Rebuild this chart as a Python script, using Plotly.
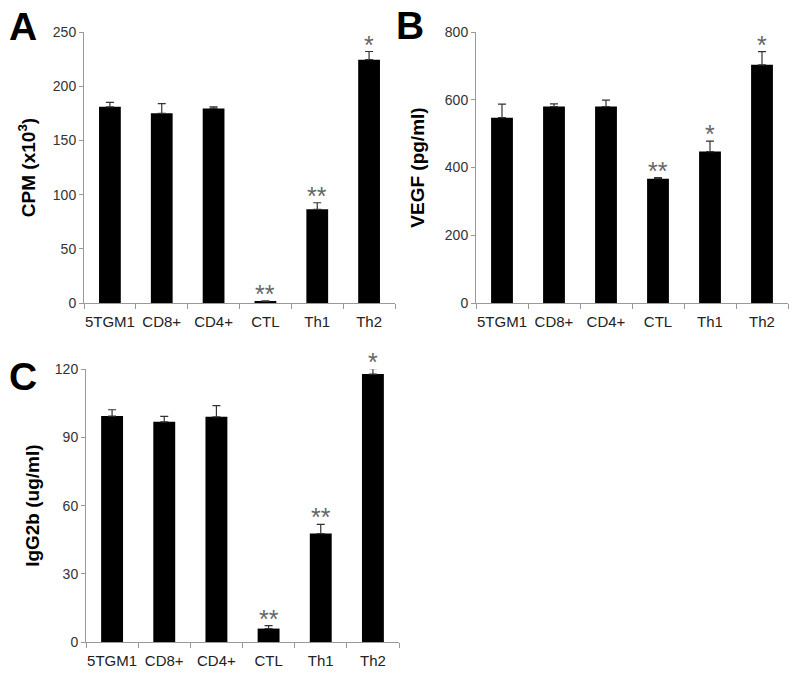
import plotly.graph_objects as go

categories = ["5TGM1", "CD8+", "CD4+", "CTL", "Th1", "Th2"]

cpm_values = [181, 175, 179.5, 1.5, 86.5, 224.5]
cpm_errors = [4, 9, 1.5, 0.5, 6, 7.5]
cpm_marks = ["", "", "", "**", "**", "*"]

vegf_values = [547, 580, 580, 367, 447, 703]
vegf_errors = [40, 8, 19, 3, 31, 39]
vegf_marks = ["", "", "", "**", "*", "*"]

igg_values = [99.4, 96.9, 99.1, 5.9, 47.7, 117.9]
igg_errors = [2.8, 2.4, 4.9, 1.3, 4.1, 2.4]
igg_marks = ["", "", "", "**", "**", "*"]

# The page body has an 8px default margin; the figure is sized to fit the window.
W, H, OFF = 792, 677, 8


def px_x(v):
    return (v - OFF) / W


def px_y(v):
    return 1 - (v - OFF) / H


panels = [
    dict(vals=cpm_values, errs=cpm_errors, marks=cpm_marks, title="CPM (x10<sup>3</sup>)",
         yr=[0, 250], dt=50, box=(84, 395, 32, 303), letter="A", lpos=(8, 12), stand=12),
    dict(vals=vegf_values, errs=vegf_errors, marks=vegf_marks, title="VEGF (pg/ml)",
         yr=[0, 800], dt=200, box=(476, 788, 32, 303), letter="B", lpos=(395, 11), stand=15),
    dict(vals=igg_values, errs=igg_errors, marks=igg_marks, title="IgG2b (ug/ml)",
         yr=[0, 120], dt=30, box=(86, 399, 369.3, 642), letter="C", lpos=(8, 362), stand=10),
]

FONT = "Liberation Sans, Arial, sans-serif"
fig = go.Figure()
layout = dict(width=W, height=H, margin=dict(l=0, r=0, t=0, b=0, autoexpand=False),
              paper_bgcolor="white", plot_bgcolor="white", showlegend=False,
              font=dict(family=FONT, color="#222"))
annotations = []
for i, p in enumerate(panels):
    n = "" if i == 0 else str(i + 1)
    xa, ya = "x" + n, "y" + n
    x0, x1, y0, y1 = p["box"]
    fig.add_trace(go.Bar(
        x=categories, y=p["vals"], xaxis=xa, yaxis=ya, width=0.42,
        marker=dict(color="black", line=dict(width=0)),
        error_y=dict(type="data", array=p["errs"], arrayminus=[0] * 6, symmetric=False,
                     color="#333", thickness=1.2, width=4),
    ))
    ymax = p["yr"][1]
    for c, v, e, m in zip(categories, p["vals"], p["errs"], p["marks"]):
        if m:
            annotations.append(dict(x=c, y=(v + e) / ymax, xref=xa, yref=ya + " domain", text=m,
                                    showarrow=False, yanchor="bottom", yshift=-9,
                                    font=dict(size=25, color="#666", family=FONT)))
    layout["xaxis" + n] = dict(domain=[px_x(x0), px_x(x1)], anchor=ya, type="category", range=[-0.5, 5.5],
                               automargin=False,
                               showline=True, linecolor="#999", linewidth=1,
                               ticks="outside", tickson="boundaries", ticklen=5, tickcolor="#999",
                               tickangle=0, ticklabelstandoff=5,
                               tickfont=dict(size=15, color="#222"), showgrid=False, fixedrange=True)
    layout["yaxis" + n] = dict(domain=[px_y(y1), px_y(y0)], anchor=xa, range=p["yr"], dtick=p["dt"],
                               automargin=False,
                               showline=True, linecolor="#999", linewidth=1,
                               ticks="outside", ticklen=4, tickcolor="#999",
                               tickfont=dict(size=14, color="#333"), showgrid=False, zeroline=False,
                               title=dict(text="<b>" + p["title"] + "</b>", font=dict(size=19, color="black"),
                                          standoff=p["stand"]))
    lx, ly = p["lpos"]
    annotations.append(dict(x=px_x(lx), y=px_y(ly - 8), xref="paper", yref="paper",
                            text="<b>" + p["letter"] + "</b>", borderpad=0,
                            showarrow=False, xanchor="left", yanchor="top",
                            font=dict(size=39, color="black", family=FONT)))
layout["annotations"] = annotations
fig.update_layout(**layout)
fig.write_html("out.html")
